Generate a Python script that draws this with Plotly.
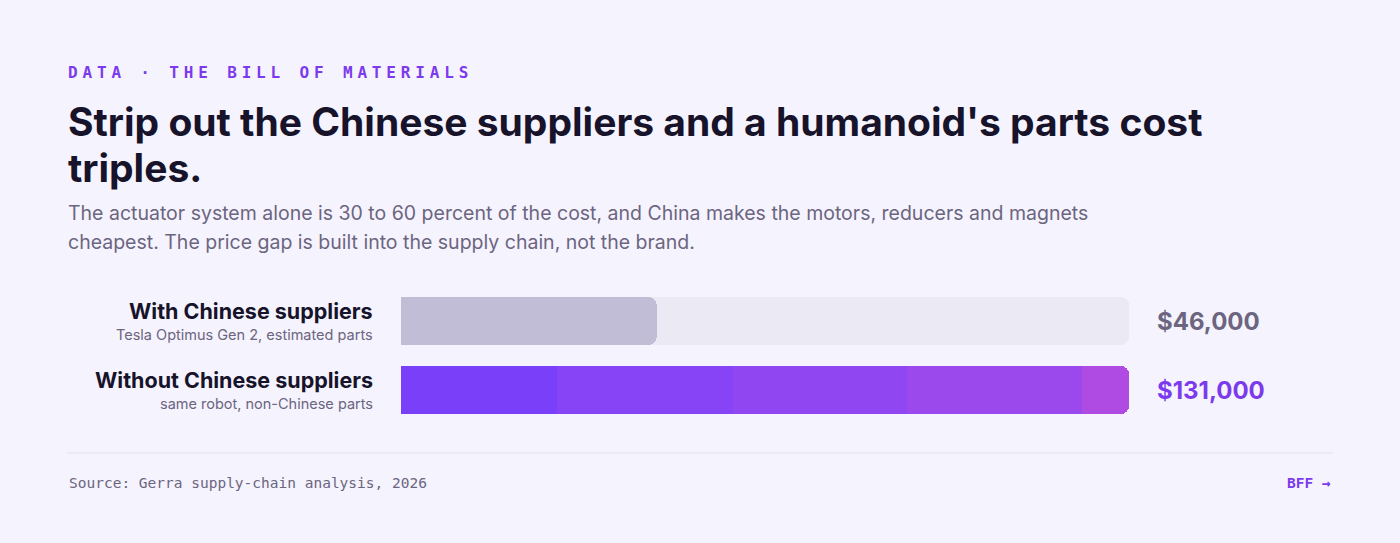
import plotly.graph_objects as go

W, H = 1400, 543

rows = ["With Chinese suppliers", "Without Chinese suppliers"]
row_notes = ["Tesla Optimus Gen 2, estimated parts", "same robot, non-Chinese parts"]
costs = [46000, 131000]
cost_labels = ["$46,000", "$131,000"]

# colour bands of the gradient bar (share of bar length, colour)
band_share = [0.214, 0.242, 0.239, 0.240, 0.065]
band_colors = ["#7a3ff9", "#8644f6", "#9047f1", "#9b49ed", "#af4be3"]

BG = "#f5f3fd"
DARK = "#17132b"
GREY = "#6b6580"
PURPLE = "#7c3aed"

ypos = [109, 40]  # px above plot bottom (bars at y=321 and y=390)
vmax = max(costs)

fig = go.Figure()
# tracks
fig.add_trace(go.Bar(x=[vmax, vmax], y=ypos, orientation="h", width=48,
                     marker=dict(color="#ebe9f3", line_width=0),
                     hoverinfo="skip", showlegend=False))
# grey bar
fig.add_trace(go.Bar(x=[costs[0]], y=[ypos[0]], orientation="h", width=48,
                     marker=dict(color="#c2bdd6", line_width=0), xaxis="x2",
                     hoverinfo="skip", showlegend=False))
# gradient bar as stacked bands
for s, c in zip(band_share, band_colors):
    fig.add_trace(go.Bar(x=[costs[1] * s], y=[ypos[1]], orientation="h", width=48,
                         marker=dict(color=c, line_width=0), xaxis="x2",
                         hoverinfo="skip", showlegend=False))

ann = []
def txt(x, y, t, size, color, family="Inter", bold=False, xanchor="left"):
    ann.append(dict(x=x / W, y=1 - y / H, xref="paper", yref="paper", text=f"<b>{t}</b>" if bold else t,
                    showarrow=False, xanchor=xanchor, yanchor="middle",
                    font=dict(size=size, color=color, family=family)))

kicker = "DATA · THE BILL OF MATERIALS"
gap = '<span style="font-size:8px">\u00a0</span>'
txt(66, 72, gap.join(kicker.replace(" ", "\u00a0")), 16, PURPLE, "DejaVu Sans Mono", True)
txt(66, 122, "Strip out the Chinese suppliers and a humanoid's parts cost", 39, DARK, bold=True)
txt(66, 167, "triples.", 39, DARK, bold=True)
txt(66, 213, "The actuator system alone is 30 to 60 percent of the cost, and China makes the motors, reducers and magnets", 19.5, GREY)
txt(66, 242, "cheapest. The price gap is built into the supply chain, not the brand.", 19.5, GREY)
for i, (r, n, lab) in enumerate(zip(rows, row_notes, cost_labels)):
    yc = 430 - ypos[i]
    txt(375, yc - 10, r, 21.5, DARK, bold=True, xanchor="right")
    txt(375, yc + 13, n, 14.5, GREY, xanchor="right")
    txt(1155, yc, lab, 24, GREY if i == 0 else PURPLE, bold=True)
txt(67, 483, "Source: Gerra supply-chain analysis, 2026", 14.5, GREY, "DejaVu Sans Mono")
txt(1333, 483, "<b>BFF →</b>", 14.5, PURPLE, "DejaVu Sans Mono", xanchor="right")

xax = dict(range=[0, vmax], domain=[401 / W, 1129 / W], visible=False, fixedrange=True)
fig.update_layout(
    width=W, height=H, margin=dict(l=0, r=0, t=0, b=0),
    paper_bgcolor=BG, plot_bgcolor=BG,
    barmode="stack", barcornerradius=8,
    xaxis=xax, xaxis2=dict(xax, overlaying="x"),
    yaxis=dict(range=[0, 150], domain=[(H - 430) / H, (H - 280) / H], visible=False, fixedrange=True),
    annotations=ann,
    shapes=[dict(type="line", xref="paper", yref="paper", x0=67 / W, x1=1333 / W,
                 y0=1 - 453 / H, y1=1 - 453 / H, line=dict(color="#e4e1ee", width=1))],
)
fig.write_html("out.html", config={"displayModeBar": False},
               post_script="document.body.style.margin='0';document.body.style.background='#f5f3fd';")
